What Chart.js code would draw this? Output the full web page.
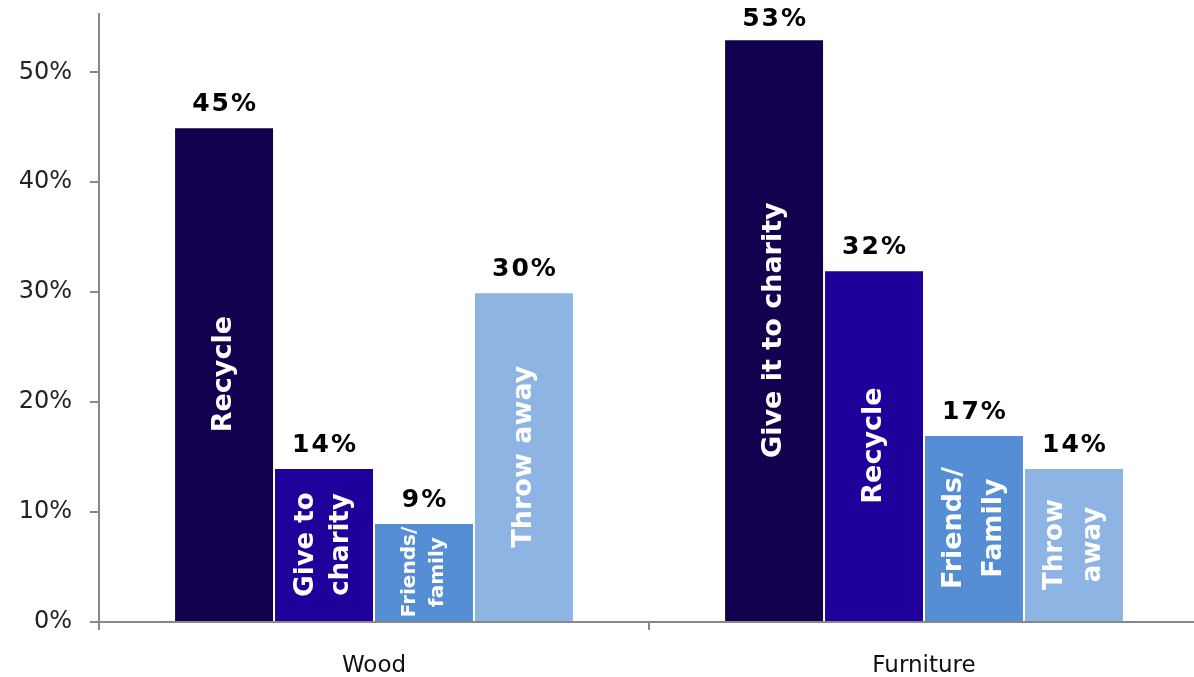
<!DOCTYPE html>
<html>
<head>
<meta charset="utf-8">
<script src="https://cdn.jsdelivr.net/npm/chart.js@4.4.1/dist/chart.umd.min.js"></script>
<style>
  html, body { margin: 0; padding: 0; background: #fff; overflow: hidden; }
  #wrap { width: 1199px; height: 677px; }
</style>
</head>
<body>
<div id="wrap"><canvas id="disposalChart"></canvas></div>
<script>
// chart data
const categories = ['Wood', 'Furniture'];
const firstValues = [45, 53];
const secondValues = [14, 32];
const thirdValues = [9, 17];
const fourthValues = [30, 14];
const yTicks = [0, 10, 20, 30, 40, 50];

// text written inside each bar (one entry per category)
const firstLabels = [['Recycle'], ['Give it to charity']];
const secondLabels = [['Give to', 'charity'], ['Recycle']];
const thirdLabels = [['Friends/', 'family'], ['Friends/', 'Family']];
const fourthLabels = [['Throw away'], ['Throw', 'away']];

// styling for inside labels: [fontSize, lineHeight, weight] per series and category
const insideStyle = [
    [[27, 0, 'bold'], [27, 0, 'bold']],
    [[26, 35, 'bold'], [27, 0, 'bold']],
    [[20, 28, 'bold'], [27, 40, 'bold']],
    [[27, 0, 'bold'], [26, 38, 'bold']]
];

const colors = ['#13004F', '#1F009A', '#558ED5', '#8EB4E3'];
const FONT = '"DejaVu Sans", Verdana, sans-serif';

const labelPlugin = {
    id: 'barLabels',
    afterDatasetsDraw(chart) {
        const ctx = chart.ctx;
        chart.data.datasets.forEach((ds, di) => {
            const meta = chart.getDatasetMeta(di);
            meta.data.forEach((bar, i) => {
                const value = ds.data[i];
                // value above bar (kept inside the canvas near the top)
                ctx.save();
                ctx.fillStyle = '#000';
                ctx.font = 'bold 25px ' + FONT;
                ctx.letterSpacing = '2px';
                ctx.textAlign = 'center';
                ctx.textBaseline = 'bottom';
                ctx.fillText(value + '%', bar.x + 1, Math.max(bar.y - 10, 32));
                ctx.restore();

                // rotated text inside bar
                const lines = ds.innerLabels[i];
                const [size, lh, weight] = insideStyle[di][i];
                const cy = (bar.y + bar.base) / 2;
                ctx.save();
                ctx.translate(bar.x, cy);
                ctx.rotate(-Math.PI / 2);
                ctx.fillStyle = '#fff';
                ctx.font = weight + ' ' + size + 'px ' + FONT;
                ctx.textAlign = 'center';
                ctx.textBaseline = 'middle';
                lines.forEach((line, li) => {
                    ctx.fillText(line, 0, (li - (lines.length - 1) / 2) * lh);
                });
                ctx.restore();
            });
        });
    }
};

const allValues = [firstValues, secondValues, thirdValues, fourthValues];
const allLabels = [firstLabels, secondLabels, thirdLabels, fourthLabels];

const ctx = document.getElementById('disposalChart').getContext('2d');
new Chart(ctx, {
    type: 'bar',
    data: {
        labels: categories,
        datasets: allValues.map((vals, k) => ({
            data: vals,
            innerLabels: allLabels[k],
            backgroundColor: colors[k],
            borderColor: '#ffffff',
            borderWidth: 1,
            borderSkipped: 'bottom',
            categoryPercentage: 0.727,
            barPercentage: 1.0
        }))
    },
    options: {
        responsive: true,
        maintainAspectRatio: false,
        animation: false,
        layout: { padding: { top: 14, right: 0, bottom: 0, left: 0 } },
        plugins: {
            legend: { display: false },
            tooltip: { enabled: false }
        },
        scales: {
            x: {
                grid: {
                    drawOnChartArea: false,
                    drawTicks: true,
                    tickLength: 8,
                    color: '#888',
                    lineWidth: 2
                },
                border: { color: '#888', width: 2 },
                ticks: {
                    color: '#111',
                    font: { family: FONT, size: 23 },
                    padding: 22
                },
                afterFit(scale) {
                    scale.height = 55;
                    scale.paddingLeft = 0;
                    scale.paddingRight = 0;
                }
            },
            y: {
                min: 0,
                max: 55.3,
                afterBuildTicks(scale) {
                    scale.ticks = yTicks.map(v => ({ value: v }));
                },
                grid: {
                    drawOnChartArea: false,
                    drawTicks: true,
                    tickLength: 9,
                    color: '#888',
                    lineWidth: 2
                },
                border: { color: '#888', width: 2 },
                ticks: {
                    color: '#222',
                    font: { family: FONT, size: 24 },
                    padding: 18,
                    callback: v => v + '%'
                },
                afterFit(scale) {
                    scale.width = 99;
                    scale.paddingTop = 0;
                    scale.paddingBottom = 0;
                }
            }
        }
    },
    plugins: [labelPlugin]
});
</script>
</body>
</html>
